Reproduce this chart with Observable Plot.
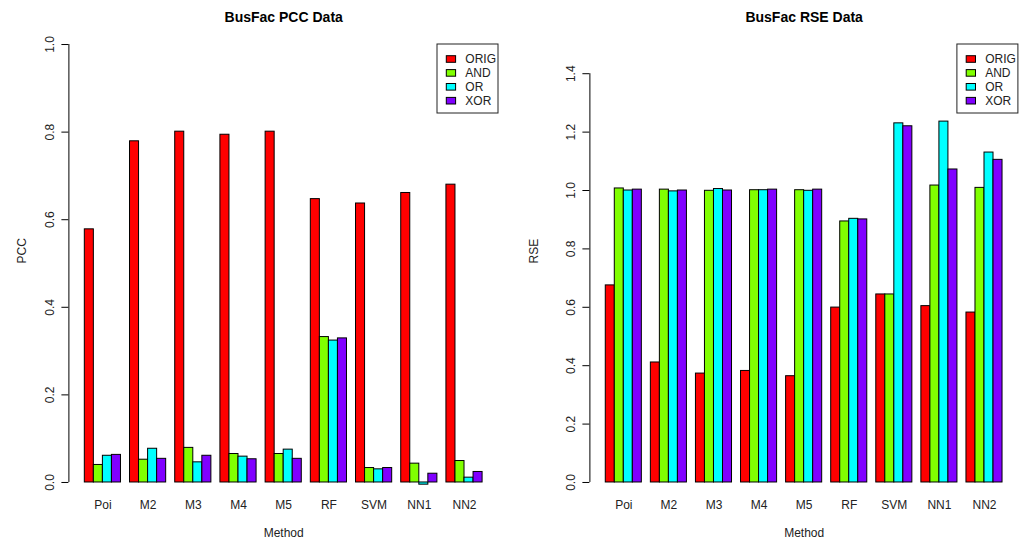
<!DOCTYPE html>
<html>
<head>
<meta charset="utf-8">
<script src="https://cdn.jsdelivr.net/npm/d3@7"></script>
<script src="https://cdn.jsdelivr.net/npm/@observablehq/plot@0.6"></script>
<style>
  body { margin: 0; background: #fff; }
  #wrap { position: relative; width: 1023px; height: 539px; overflow: hidden; background: #fff; }
  .panel { position: absolute; top: 0; height: 539px; }
  .panel svg { display: block; }
</style>
</head>
<body>
<div id="wrap">
  <div id="left" class="panel" style="left:0;width:512px"></div>
  <div id="right" class="panel" style="left:512px;width:511px"></div>
</div>
<script>
// ---- data ----
const methods = ["Poi", "M2", "M3", "M4", "M5", "RF", "SVM", "NN1", "NN2"];
const series = ["ORIG", "AND", "OR", "XOR"];
const colors = ["#FF0000", "#80FF00", "#00FFFF", "#8000FF"];

const pccORIG = [0.578, 0.779, 0.801, 0.794, 0.801, 0.647, 0.637, 0.661, 0.680];
const pccAND  = [0.040, 0.052, 0.079, 0.065, 0.065, 0.332, 0.033, 0.043, 0.049];
const pccOR   = [0.061, 0.077, 0.046, 0.059, 0.075, 0.324, 0.030, -0.005, 0.011];
const pccXOR  = [0.063, 0.054, 0.061, 0.053, 0.054, 0.329, 0.033, 0.020, 0.024];

const rseORIG = [0.675, 0.411, 0.373, 0.382, 0.364, 0.599, 0.644, 0.604, 0.582];
const rseAND  = [1.007, 1.003, 0.999, 1.001, 1.001, 0.894, 0.644, 1.017, 1.009];
const rseOR   = [1.000, 0.997, 1.005, 1.001, 0.999, 0.903, 1.230, 1.236, 1.130];
const rseXOR  = [1.003, 1.000, 1.000, 1.003, 1.003, 0.901, 1.220, 1.072, 1.105];

const pccTicks = [0, 0.2, 0.4, 0.6, 0.8, 1.0];
const rseTicks = [0, 0.2, 0.4, 0.6, 0.8, 1.0, 1.2, 1.4];

const FONT = "'Liberation Sans', Arial, Helvetica, sans-serif";

function panel(el, {values, yLim, yTicks, width, marginLeft, marginRight, title, yLabel}) {
  // barplot(beside=TRUE, space=c(0,1)) layout in bar units
  const rows = [];
  methods.forEach((m, g) => series.forEach((s, k) => rows.push({
    method: m, series: s, value: values[k][g], x1: g * 5 + 1 + k, x2: g * 5 + 2 + k
  })));
  const span = methods.length * 5 - 1;              // from first bar left to last bar right
  const xDomain = [1 - 0.04 * span, 1 + span + 0.04 * span];
  const yPad = 0.04 * (yLim[1] - yLim[0]);
  const yDomain = [yLim[0] - yPad, yLim[1] + yPad];
  const centers = methods.map((m, g) => g * 5 + 3);

  const chart = Plot.plot({
    width, height: 539,
    marginLeft, marginRight, marginTop: 26.5, marginBottom: 39.5,
    style: {fontFamily: FONT, fontSize: "12px", color: "#000", background: "transparent", overflow: "visible"},
    x: {domain: xDomain, axis: null},
    y: {domain: yDomain, axis: null},
    color: {domain: series, range: colors},
    marks: [
      Plot.rect(rows, {x1: "x1", x2: "x2", y1: 0, y2: "value", fill: "series", stroke: "#000", strokeWidth: 1}),
      Plot.ruleX([xDomain[0]], {y1: yTicks[0], y2: yTicks[yTicks.length - 1], stroke: "#000"}),
      Plot.axisY({ticks: yTicks, tickSize: 7, tickRotate: -90, tickPadding: 8,
                  tickFormat: d3.format(".1f"), label: null, stroke: "#000", fill: "#222"}),
      Plot.axisX({ticks: centers, tickFormat: t => methods[Math.round((t - 3) / 5)],
                  tickSize: 0, tickPadding: 0, label: null, fill: "#222"}),
      Plot.text([title], {frameAnchor: "top", lineAnchor: "bottom", dy: -4.8,
                          fontWeight: "bold", fontSize: 14, fill: "#000"}),
      Plot.text(["Method"], {frameAnchor: "bottom", lineAnchor: "bottom", dy: 36.5, fill: "#222"}),
      Plot.text([yLabel], {frameAnchor: "left", lineAnchor: "bottom", rotate: -90, dx: -(marginLeft - 25), fill: "#222"})
    ]
  });
  el.appendChild(chart);

  // legend box (top-right)
  const svg = d3.select(chart);
  const boxW = 61, boxH = 69, top = 44;
  const boxL = width - marginRight - boxW;
  const lg = svg.append("g").attr("font-family", FONT).attr("font-size", 12).attr("text-anchor", "start");
  lg.append("rect").attr("x", boxL).attr("y", top).attr("width", boxW).attr("height", boxH)
    .attr("fill", "#fff").attr("stroke", "#222").attr("stroke-width", 1);
  series.forEach((s, i) => {
    const cy = top + 15 + i * 13.9;
    lg.append("rect").attr("x", boxL + 9.3).attr("y", cy - 3.3).attr("width", 9.3).attr("height", 6.6)
      .attr("fill", colors[i]).attr("stroke", "#000").attr("stroke-width", 1);
    lg.append("text").attr("x", boxL + 28.3).attr("y", cy + 4.3).attr("fill", "#222")
      .attr("text-anchor", "start").text(s);
  });
}

panel(document.getElementById("left"), {
  values: [pccORIG, pccAND, pccOR, pccXOR], yLim: [0, 1], yTicks: pccTicks,
  width: 512, marginLeft: 68.4, marginRight: 14, title: "BusFac PCC Data", yLabel: "PCC"
});
panel(document.getElementById("right"), {
  values: [rseORIG, rseAND, rseOR, rseXOR], yLim: [0, 1.5], yTicks: rseTicks,
  width: 511, marginLeft: 77.4, marginRight: 5.1, title: "BusFac RSE Data", yLabel: "RSE"
});
</script>
</body>
</html>
